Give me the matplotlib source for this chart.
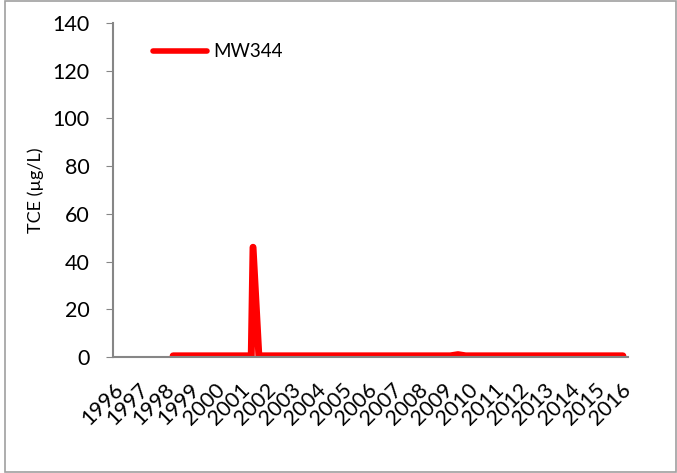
import matplotlib
matplotlib.use("Agg")
import matplotlib.pyplot as plt
from matplotlib.patches import Rectangle

plt.rcParams['font.family'] = ['Lato', 'DejaVu Sans']

# Sampling times (decimal years) and TCE concentrations
sample_years = [1998.37, 1999.0, 1999.5, 2000.0, 2000.5, 2001.0, 2001.45, 2001.52, 2001.75,
                2002.5, 2003.5, 2004.5, 2005.5, 2006.5, 2007.5, 2008.5, 2009.3, 2009.6,
                2009.9, 2010.5, 2011.5, 2012.5, 2013.5, 2014.5, 2015.5, 2016.1]
tce_values = [0.5, 0.5, 0.5, 0.5, 0.5, 0.5, 0.5, 46.0, 0.5,
              0.5, 0.5, 0.5, 0.5, 0.5, 0.5, 0.5, 0.5, 1.0,
              0.5, 0.5, 0.5, 0.5, 0.5, 0.5, 0.5, 0.5]
year_ticks = list(range(1996, 2017))
y_ticks = [0, 20, 40, 60, 80, 100, 120, 140]
series_name = "MW344"

fig = plt.figure(figsize=(6.77, 4.73), dpi=100)
ax = fig.add_axes([0.1669, 0.2452, 0.7607, 0.7062])

ax.plot(sample_years, tce_values, color='#ff0000', lw=5, solid_capstyle='round',
        solid_joinstyle='round', label=series_name)

ax.set_xlim(1996, 2016.3)
ax.set_ylim(0, 140)
ax.set_yticks(y_ticks)
ax.set_xticks(year_ticks)
ax.set_xticklabels([str(y) for y in year_ticks], rotation=45, ha='right',
                   rotation_mode='anchor', fontsize=15.5)
ax.tick_params(axis='x', length=0, pad=16)
ax.tick_params(axis='y', length=5, color='#868686', labelsize=15.5, pad=12)

for side in ('top', 'right'):
    ax.spines[side].set_visible(False)
for side in ('left', 'bottom'):
    ax.spines[side].set_color('#868686')
    ax.spines[side].set_linewidth(1.5)

ax.set_ylabel('TCE (µg/L)', fontsize=13, labelpad=6)

leg = ax.legend(loc='upper left', bbox_to_anchor=(0.045, 0.99), frameon=False,
                fontsize=13.5, handlelength=2.9, handletextpad=0.3)
for h in leg.get_lines():
    h.set_linewidth(4)

fig.patches.append(Rectangle((5 / 677, 1 / 473), 671 / 677, 471 / 473,
                             transform=fig.transFigure, fill=False,
                             edgecolor='#a0a0a0', lw=1.2))

fig.savefig('out.png', dpi=100)
